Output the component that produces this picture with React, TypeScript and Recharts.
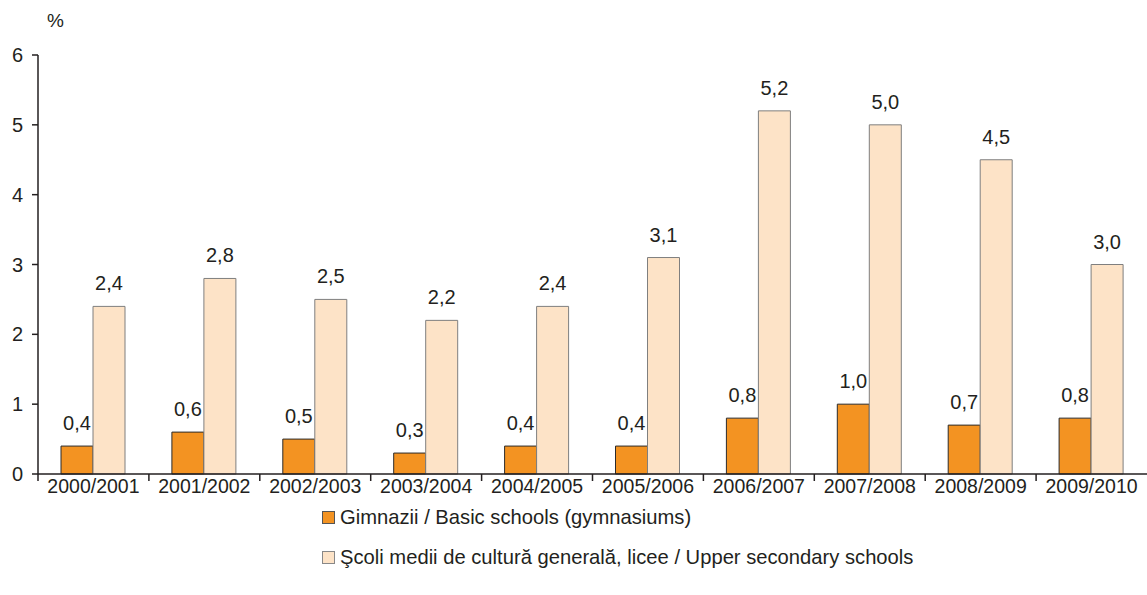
import { BarChart, Bar, XAxis, YAxis, LabelList } from "recharts";

// Dropout rate by school year, two school types. Values in %.
const years = [
  "2000/2001", "2001/2002", "2002/2003", "2003/2004", "2004/2005",
  "2005/2006", "2006/2007", "2007/2008", "2008/2009", "2009/2010",
];
const basicSchools = [0.4, 0.6, 0.5, 0.3, 0.4, 0.4, 0.8, 1.0, 0.7, 0.8];
const upperSecondary = [2.4, 2.8, 2.5, 2.2, 2.4, 3.1, 5.2, 5.0, 4.5, 3.0];
const yTicks = [0, 1, 2, 3, 4, 5, 6];

const basicLabel = "Gimnazii / Basic schools (gymnasiums)";
const upperLabel = "Şcoli medii de cultură generală, licee / Upper secondary schools";

const data = years.map((year, i) => ({ year, basic: basicSchools[i], upper: upperSecondary[i] }));

const W = 1147;
const H = 595;
const LEFT = 38;
const TOP = 55;
const AXIS_Y = 474;
const XAXIS_H = 30;
const band = (W - LEFT) / years.length;
const font = "'Liberation Sans', Arial, sans-serif";
const ink = "#231f20";

const fmt = (v: number) => v.toFixed(1).replace(".", ",");

function YearTick({ x, payload }: { x: number; payload: { value: string } }) {
  return (
    <g>
      <line x1={x - band / 2} x2={x - band / 2} y1={AXIS_Y} y2={AXIS_Y + 7} stroke={ink} strokeWidth={1.5} />
      <text x={x} y={AXIS_Y + 19} textAnchor="middle" fill={ink} fontSize={19.5} fontFamily={font}>
        {payload.value}
      </text>
    </g>
  );
}

export default function App() {
  return (
    <div style={{ position: "absolute", left: 0, top: 0, width: W, height: H, fontFamily: font, background: "#fff" }}>
      <div style={{ position: "absolute", left: 47, top: 10, fontSize: 19, color: ink }}>%</div>
      <BarChart
        width={W}
        height={H}
        data={data}
        margin={{ top: TOP, right: 0, left: 0, bottom: H - AXIS_Y - XAXIS_H }}
        barGap={0}
        barSize={32}
      >
        <XAxis
          dataKey="year"
          stroke={ink}
          strokeWidth={1.5}
          tickLine={false}
          tick={(p: any) => <YearTick {...p} />}
          interval={0}
          height={XAXIS_H}
        />
        <YAxis
          width={LEFT}
          domain={[0, 6]}
          ticks={yTicks}
          stroke={ink}
          strokeWidth={1.5}
          tickSize={6}
          tickMargin={9}
          tick={{ fill: ink, fontSize: 20, fontFamily: font }}
        />
        <Bar dataKey="basic" fill="#f39322" stroke="#2b2b2b" strokeWidth={1} isAnimationActive={false}>
          <LabelList dataKey="basic" position="top" offset={16} formatter={(v: any) => fmt(Number(v))} fill={ink} fontSize={20} fontFamily={font} />
        </Bar>
        <Bar dataKey="upper" fill="#fde3c7" stroke="#7f7f7f" strokeWidth={1} isAnimationActive={false}>
          <LabelList dataKey="upper" position="top" offset={16} formatter={(v: any) => fmt(Number(v))} fill={ink} fontSize={20} fontFamily={font} />
        </Bar>
      </BarChart>
      <div style={{ position: "absolute", left: 322, top: 505, fontSize: 20.2, color: ink, lineHeight: "24px" }}>
        <div style={{ display: "flex", alignItems: "center" }}>
          <span style={{ width: 11, height: 11, background: "#f39322", border: "1px solid #555", marginRight: 5, display: "inline-block" }} />
          {basicLabel}
        </div>
        <div style={{ display: "flex", alignItems: "center", marginTop: 16 }}>
          <span style={{ width: 11, height: 11, background: "#fde3c7", border: "1px solid #888", marginRight: 5, display: "inline-block" }} />
          {upperLabel}
        </div>
      </div>
    </div>
  );
}
